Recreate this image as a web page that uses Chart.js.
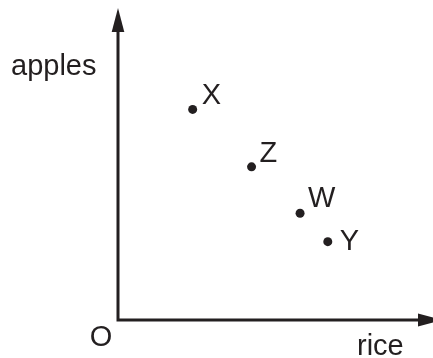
<!DOCTYPE html>
<html>
<head>
<meta charset="utf-8">
<style>
  html, body { margin: 0; padding: 0; background: #ffffff; }
  #wrap { width: 433px; height: 358px; position: relative; }
</style>
<script src="https://cdn.jsdelivr.net/npm/chart.js@4/dist/chart.umd.min.js"></script>
</head>
<body>
<div id="wrap"><canvas id="c" width="433" height="358"></canvas></div>
<script>
// Data
const pointLabels = ['X', 'Z', 'W', 'Y'];
const riceValues = [23.7, 42.4, 57.8, 66.6];
const applesValues = [67.5, 49.1, 34.2, 25.1];
const xAxisTitle = 'rice';
const yAxisTitle = 'apples';
const originLabel = 'O';

const INK = '#231f20';
const FONT = '29px "Liberation Sans", Arial, sans-serif';

const dataPoints = riceValues.map((v, i) => ({ x: v, y: applesValues[i] }));

// label placement relative to the dot: [dx, dy, baseline]
const labelPlacement = {
  X: [9, -5, 'alphabetic'],
  Z: [8, -5, 'alphabetic'],
  W: [8, -6.5, 'alphabetic'],
  Y: [12, 0, 'middle']
};

const axesPlugin = {
  id: 'axesArrows',
  afterDatasetsDraw(chart) {
    const ctx = chart.ctx;
    const xs = chart.scales.x, ys = chart.scales.y;
    const ox = xs.getPixelForValue(0);
    const oy = ys.getPixelForValue(0);
    const top = chart.chartArea.top;
    const right = chart.chartArea.right;
    ctx.save();
    ctx.strokeStyle = INK;
    ctx.fillStyle = INK;
    ctx.lineWidth = 3;
    ctx.lineCap = 'butt';
    ctx.beginPath();
    ctx.moveTo(ox, top + 20);
    ctx.lineTo(ox, oy);
    ctx.lineTo(right - 10, oy);
    ctx.stroke();
    // y arrowhead
    ctx.beginPath();
    ctx.moveTo(ox, top);
    ctx.lineTo(ox - 6.3, top + 24);
    ctx.lineTo(ox + 6.3, top + 24);
    ctx.closePath();
    ctx.fill();
    // x arrowhead
    ctx.beginPath();
    ctx.moveTo(right + 10, oy);
    ctx.lineTo(right - 15, oy - 6.5);
    ctx.lineTo(right - 15, oy + 6.5);
    ctx.closePath();
    ctx.fill();

    // titles
    ctx.font = FONT;
    ctx.textBaseline = 'alphabetic';
    ctx.textAlign = 'left';
    ctx.fillText(yAxisTitle, 11, 75);
    ctx.fillText(xAxisTitle, 357, 355);
    ctx.textAlign = 'center';
    ctx.fillText(originLabel, ox - 17, 346);

    // point labels
    const meta = chart.getDatasetMeta(0);
    ctx.textAlign = 'left';
    meta.data.forEach((el, i) => {
      const lab = pointLabels[i];
      const p = labelPlacement[lab];
      ctx.textBaseline = p[2];
      ctx.fillText(lab, el.x + p[0], el.y + p[1]);
    });
    ctx.restore();
  }
};

new Chart(document.getElementById('c'), {
  type: 'scatter',
  data: {
    datasets: [{
      label: 'points',
      data: dataPoints,
      pointRadius: 4.5,
      pointBackgroundColor: INK,
      pointBorderColor: INK,
      pointBorderWidth: 0
    }]
  },
  options: {
    responsive: false,
    animation: false,
    devicePixelRatio: 1,
    layout: { autoPadding: false, padding: { left: 118, right: 0, top: 8, bottom: 38 } },
    plugins: { legend: { display: false }, tooltip: { enabled: false } },
    scales: {
      x: { type: 'linear', min: 0, max: 100, display: false },
      y: { type: 'linear', min: 0, max: 100, display: false }
    }
  },
  plugins: [axesPlugin]
});
</script>
</body>
</html>
